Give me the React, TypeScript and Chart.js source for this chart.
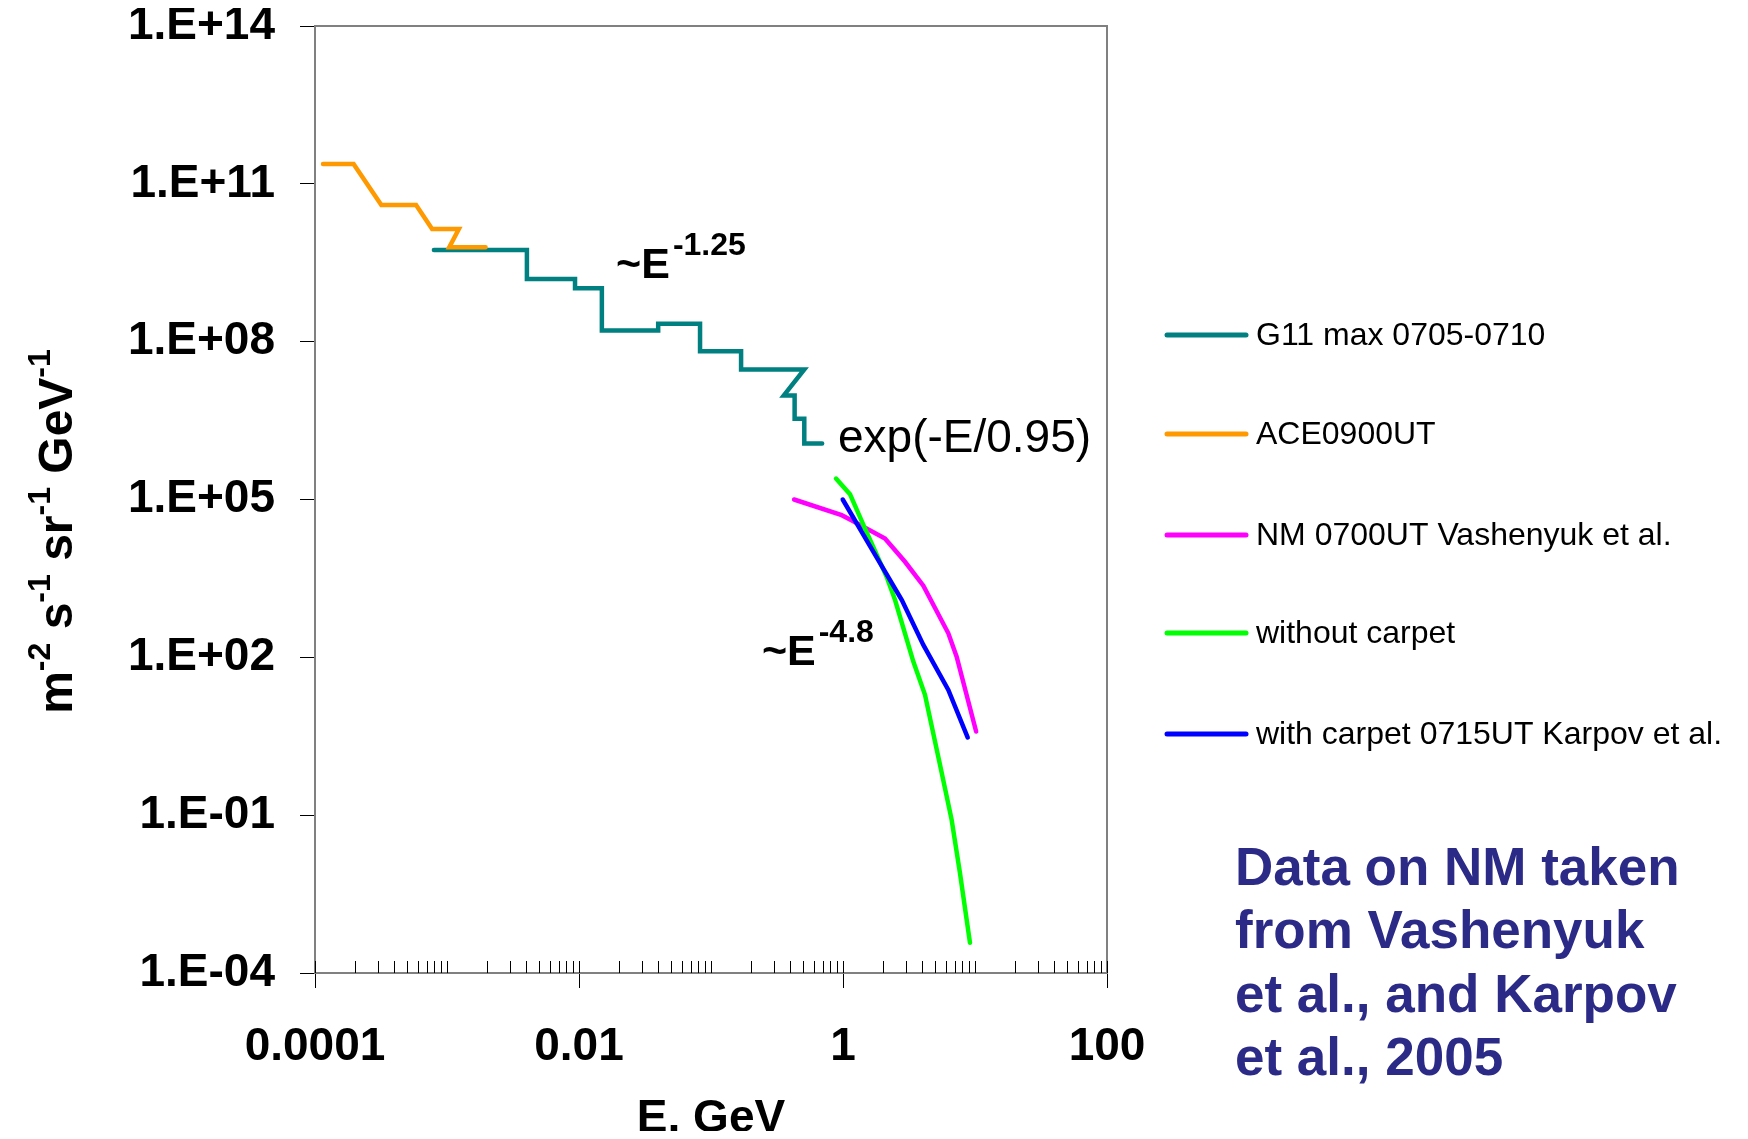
import React, { useEffect, useRef } from 'react';
import { Chart, registerables } from 'chart.js';

Chart.register(...registerables);

const FONT = '"Liberation Sans", Arial, Helvetica, sans-serif';

// ---- Data (E in GeV, flux in m^-2 s^-1 sr^-1 GeV^-1) ----
const seriesNames = [
  'G11 max 0705-0710',
  'ACE0900UT',
  'NM 0700UT Vashenyuk et al.',
  'without carpet',
  'with carpet 0715UT Karpov et al.',
];
const seriesColors = ['#008080', '#FF9900', '#FF00FF', '#00FF00', '#0000FF'];

const g11Energy = [7.96e-4, 4.03e-3, 4.03e-3, 9.33e-3, 9.33e-3, 1.49e-2, 1.49e-2, 3.98e-2, 3.98e-2, 8.26e-2, 8.26e-2, 0.169, 0.169, 0.509, 0.356, 0.43, 0.43, 0.509, 0.509, 0.695];
const g11Flux = [5.55e9, 5.55e9, 1.56e9, 1.56e9, 1.04e9, 1.04e9, 1.63e8, 1.63e8, 2.19e8, 2.19e8, 6.61e7, 6.61e7, 2.97e7, 2.97e7, 9.53e6, 9.53e6, 3.44e6, 3.44e6, 1.16e6, 1.16e6];

const aceEnergy = [1.15e-4, 1.96e-4, 3.18e-4, 5.83e-4, 7.71e-4, 1.23e-3, 1.04e-3, 1.96e-3];
const aceFlux = [2.38e11, 2.38e11, 3.96e10, 3.96e10, 1.39e10, 1.39e10, 6.21e9, 6.21e9];

const nmEnergy = [0.426, 0.977, 1.13, 2.08, 2.95, 4.06, 6.28, 7.26, 10.2];
const nmFlux = [1.0e5, 5.04e4, 4.17e4, 1.82e4, 6.55e3, 2.3e3, 286, 103, 3.89];

const noCarpetEnergy = [0.885, 1.13, 1.43, 2.14, 2.48, 3.41, 4.18, 5.43, 6.65, 7.69, 9.16];
const noCarpetFlux = [2.5e5, 1.26e5, 3.25e4, 3.4e3, 1.23e3, 83.0, 19.4, 0.908, 0.0822, 0.008, 3.76e-4];

const carpetEnergy = [0.995, 1.7, 2.79, 4.06, 6.28, 8.81];
const carpetFlux = [1.0e5, 1.01e4, 1.23e3, 172, 24.0, 2.99];

// ---- Axis ticks ----
const xTickValues = [1e-4, 1e-2, 1, 100];
const xTickLabels = ['0.0001', '0.01', '1', '100'];
const yTickValues = [1e-4, 1e-1, 1e2, 1e5, 1e8, 1e11, 1e14];
const yTickLabels = ['1.E-04', '1.E-01', '1.E+02', '1.E+05', '1.E+08', '1.E+11', '1.E+14'];

// ---- Annotations (anchored in data coordinates) ----
const slopeLabels = [
  { main: '~E', sup: '-1.25', e: 0.0191, f: 1.62e9 },
  { main: '~E', sup: '-4.8', e: 0.243, f: 71.5 },
];
const expLabel = { text: 'exp(-E/0.95)', e: 0.916, f: 8.0e5 };
const noteLines = ['Data on NM taken', 'from Vashenyuk', 'et al., and Karpov', 'et al., 2005'];
const yTitleParts: [string, boolean][] = [
  ['m', false], ['-2', true], [' s', false], ['-1', true], [' sr', false], ['-1', true], [' GeV', false], ['-1', true],
];

const zip = (xs: number[], ys: number[]) => xs.map((x, i) => ({ x, y: ys[i] }));

const decorPlugin = {
  id: 'decor',
  afterDraw(chart: any) {
    const ctx: CanvasRenderingContext2D = chart.ctx;
    const { left, right, top, bottom } = chart.chartArea;
    const xs = chart.scales.x;
    const ys = chart.scales.y;
    ctx.save();

    // frame top / right
    ctx.strokeStyle = '#808080';
    ctx.lineWidth = 2;
    ctx.beginPath();
    ctx.moveTo(left, top);
    ctx.lineTo(right, top);
    ctx.lineTo(right, bottom);
    ctx.stroke();

    // inner minor ticks on x axis
    ctx.strokeStyle = '#000';
    ctx.lineWidth = 1;
    ctx.beginPath();
    for (let k = -4; k <= 2; k++) {
      for (let m = 1; m <= 9; m++) {
        const v = m * Math.pow(10, k);
        if (v > 100 * 1.0001) continue;
        const px = Math.round(xs.getPixelForValue(v)) + 0.5;
        ctx.moveTo(px, bottom);
        ctx.lineTo(px, bottom - 12);
      }
    }
    ctx.stroke();

    // slope annotations
    ctx.fillStyle = '#000';
    ctx.textBaseline = 'alphabetic';
    ctx.textAlign = 'left';
    for (const s of slopeLabels) {
      const x = xs.getPixelForValue(s.e);
      const y = ys.getPixelForValue(s.f);
      ctx.font = `bold 43px ${FONT}`;
      ctx.fillText(s.main, x, y);
      const w = ctx.measureText(s.main).width;
      ctx.font = `bold 32px ${FONT}`;
      ctx.fillText(s.sup, x + w + 3, y - 23);
    }
    ctx.font = `46px ${FONT}`;
    ctx.fillText(expLabel.text, xs.getPixelForValue(expLabel.e), ys.getPixelForValue(expLabel.f));

    // legend
    const legX = right + 60;
    const legRows = [369, 468, 569, 667, 768];
    ctx.lineWidth = 5;
    ctx.lineCap = 'round';
    ctx.font = `32px ${FONT}`;
    ctx.textBaseline = 'middle';
    seriesNames.forEach((name, i) => {
      const y = legRows[i];
      ctx.strokeStyle = seriesColors[i];
      ctx.beginPath();
      ctx.moveTo(legX, y);
      ctx.lineTo(legX + 79, y);
      ctx.stroke();
      ctx.fillStyle = '#000';
      ctx.fillText(name, legX + 89, y + 1);
    });

    // note text
    ctx.fillStyle = '#2B2A87';
    ctx.font = `bold 53px ${FONT}`;
    ctx.textBaseline = 'alphabetic';
    noteLines.forEach((line, i) => {
      ctx.fillText(line, right + 128, 919 + i * 63.4);
    });

    // y axis title (rotated, with superscripts)
    const mainFont = `bold 48px ${FONT}`;
    const supFont = `bold 32px ${FONT}`;
    let total = 0;
    const widths = yTitleParts.map(([t, sup]) => {
      ctx.font = sup ? supFont : mainFont;
      const w = ctx.measureText(t).width;
      total += w;
      return w;
    });
    ctx.translate(64, (top + bottom) / 2 + 32);
    ctx.rotate(-Math.PI / 2);
    ctx.fillStyle = '#000';
    let cx = -total / 2;
    yTitleParts.forEach(([t, sup], i) => {
      ctx.font = sup ? supFont : mainFont;
      ctx.fillText(t, cx, sup ? -22 : 0);
      cx += widths[i];
    });

    ctx.restore();
  },
};

export default function App() {
  const ref = useRef<HTMLCanvasElement>(null);

  useEffect(() => {
    const canvas = ref.current;
    if (!canvas) return;
    const seriesData = [
      zip(g11Energy, g11Flux),
      zip(aceEnergy, aceFlux),
      zip(nmEnergy, nmFlux),
      zip(noCarpetEnergy, noCarpetFlux),
      zip(carpetEnergy, carpetFlux),
    ];
    const orders = [5, 4, 3, 2, 1];
    const tickFont = { family: FONT, size: 46, weight: 'bold' as const };
    const chart = new Chart(canvas, {
      type: 'line',
      data: {
        datasets: seriesNames.map((name, i) => ({
          label: name,
          data: seriesData[i],
          borderColor: seriesColors[i],
          backgroundColor: seriesColors[i],
          borderWidth: 4.5,
          pointRadius: 0,
          tension: 0,
          fill: false,
          order: orders[i],
          borderCapStyle: 'round' as const,
        })),
      },
      options: {
        responsive: false,
        animation: false,
        parsing: true,
        layout: { padding: { left: 0, right: 633, top: 60, bottom: 0 } },
        plugins: {
          legend: { display: false },
          tooltip: { enabled: false },
        },
        scales: {
          x: {
            type: 'logarithmic',
            position: 'bottom',
            min: 1e-4,
            max: 100,
            afterBuildTicks: (s: any) => {
              s.ticks = xTickValues.map((v) => ({ value: v }));
            },
            afterFit: (s: any) => {
              s.height = 166;
            },
            ticks: {
              autoSkip: false,
              maxRotation: 0,
              padding: 32,
              color: '#000',
              font: tickFont,
              callback: (_v: any, i: number) => xTickLabels[i],
            },
            grid: { drawOnChartArea: false, drawTicks: true, tickLength: 15, tickColor: '#000', tickWidth: 1 },
            border: { display: true, color: '#808080', width: 2 },
            title: {
              display: true,
              text: 'E, GeV',
              color: '#000',
              font: { family: FONT, size: 46, weight: 'bold', lineHeight: 0.5 },
              padding: { top: 0, bottom: 8 },
            },
          },
          y: {
            type: 'logarithmic',
            min: 1e-4,
            max: 1e14,
            afterBuildTicks: (s: any) => {
              s.ticks = yTickValues.map((v) => ({ value: v }));
            },
            afterFit: (s: any) => {
              s.width = 307;
            },
            ticks: {
              autoSkip: false,
              padding: 25,
              color: '#000',
              font: tickFont,
              callback: (_v: any, i: number) => yTickLabels[i],
            },
            grid: { drawOnChartArea: false, drawTicks: true, tickLength: 15, tickColor: '#000', tickWidth: 1 },
            border: { display: true, color: '#808080', width: 2 },
          },
        },
      },
      plugins: [decorPlugin],
    } as any);
    return () => chart.destroy();
  }, []);

  return (
    <div style={{ position: 'relative', width: 1732, height: 1123 }}>
      <canvas
        ref={ref}
        width={1732}
        height={1173}
        style={{ position: 'absolute', left: 0, top: -42, width: 1732, height: 1173, display: 'block' }}
      />
    </div>
  );
}
